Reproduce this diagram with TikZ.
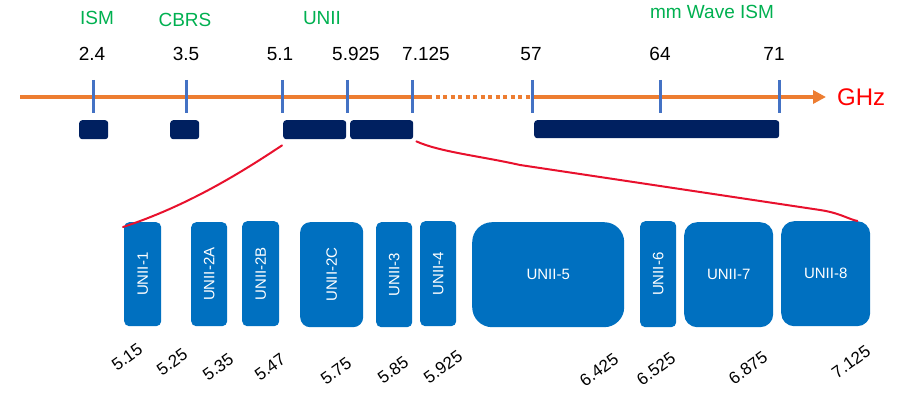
\documentclass[tikz,border=0pt]{standalone}
\usepackage{fontspec}
\setmainfont{Liberation Sans}
\usetikzlibrary{arrows.meta}
\definecolor{axisorange}{HTML}{ED7D31}
\definecolor{tickblue}{HTML}{4472C4}
\definecolor{bandgreen}{HTML}{00B050}
\definecolor{allocnavy}{HTML}{002060}
\definecolor{uniiblue}{HTML}{0070C0}
\definecolor{zoomred}{HTML}{E8112D}
\tikzset{
  axis/.style={axisorange, line width=4pt},
  tick/.style={tickblue, line width=3pt},
  freq/.style={font=\fontsize{19}{22}\selectfont, inner sep=0pt},
  bandname/.style={text=bandgreen, font=\fontsize{19}{22}\selectfont, inner sep=0pt},
  alloc/.style={fill=allocnavy, rounded corners=3pt, inner sep=0pt, anchor=north west},
  subband/.style={fill=uniiblue, text=white, font=\fontsize{15}{18}\selectfont,
    inner sep=0pt, anchor=north west},
  edgefreq/.style={rotate=36, font=\fontsize{17}{20}\selectfont, inner sep=0pt},
  zoomline/.style={zoomred, line width=2pt, line cap=round}
}
\begin{document}
\begin{tikzpicture}[x=1pt, y=-1pt]
  \useasboundingbox (0,0) rectangle (924,395);
  % frequency axis
  \coordinate (axstart) at (20,97);
  \coordinate (axgap) at (428,97);
  \coordinate (axend) at (826,97);
  \coordinate (t24) at (93,97);
  \coordinate (t35) at (186,97);
  \coordinate (t51) at (282,97);
  \coordinate (t5925) at (347,97);
  \coordinate (t7125) at (412,97);
  \coordinate (t57) at (532,97);
  \coordinate (t64) at (660,97);
  \coordinate (t71) at (779,97);
  \draw[axis] (axstart) -- (axgap);
  \draw[axis, dash pattern=on 4pt off 3.5pt] (axgap) -- (t57);
  \draw[axis, -{Triangle[length=13pt,width=13pt]}] (t57) -- (axend);
  \node[text=red, font=\fontsize{24}{28}\selectfont, inner sep=0pt, anchor=west] (ghz) at (837,97) {GHz};
  \draw[tick] ([yshift=17pt]t24) -- ([yshift=-16pt]t24);
  \draw[tick] ([yshift=17pt]t35) -- ([yshift=-16pt]t35);
  \draw[tick] ([yshift=17pt]t51) -- ([yshift=-16pt]t51);
  \draw[tick] ([yshift=17pt]t5925) -- ([yshift=-16pt]t5925);
  \draw[tick] ([yshift=17pt]t7125) -- ([yshift=-16pt]t7125);
  \draw[tick] ([yshift=17pt]t57) -- ([yshift=-16pt]t57);
  \draw[tick] ([yshift=17pt]t64) -- ([yshift=-16pt]t64);
  \draw[tick] ([yshift=17pt]t71) -- ([yshift=-16pt]t71);
  % tick values
  \node[freq] (f24) at (92,54) {2.4};
  \node[freq] (f35) at (186,54) {3.5};
  \node[freq] (f51) at (280,54) {5.1};
  \node[freq] (f5925) at (356,54) {5.925};
  \node[freq] (f7125) at (426,54) {7.125};
  \node[freq] (f57) at (531,54) {57};
  \node[freq] (f64) at (660,54) {64};
  \node[freq] (f71) at (774,54) {71};
  % band names
  \node[bandname] (ismname) at (97,18) {ISM};
  \node[bandname] (cbrsname) at (185,20) {CBRS};
  \node[bandname] (uniiname) at (322,18) {UNII};
  \node[bandname] (mmname) at (712,12) {mm Wave ISM};
  % allocations
  \node[alloc, minimum width=29pt, minimum height=19pt] (ism) at (79,120) {};
  \node[alloc, minimum width=29pt, minimum height=19pt] (cbrs) at (170,120) {};
  \node[alloc, minimum width=63pt, minimum height=19pt] (uniia) at (283,120) {};
  \node[alloc, minimum width=63pt, minimum height=19pt] (uniib) at (350,120) {};
  \node[alloc, minimum width=245pt, minimum height=18pt] (mmwave) at (534,120) {};
  % UNII sub-bands
  \node[subband, rounded corners=5pt, minimum width=37pt, minimum height=104pt] (u1) at (124,222) {\rotatebox{90}{UNII-1}};
  \node[subband, rounded corners=5pt, minimum width=36pt, minimum height=104pt] (u2a) at (191,222) {\rotatebox{90}{UNII-2A}};
  \node[subband, rounded corners=5pt, minimum width=37pt, minimum height=105pt] (u2b) at (242,221) {\rotatebox{90}{UNII-2B}};
  \node[subband, rounded corners=10pt, minimum width=63pt, minimum height=105pt] (u2c) at (300,222) {\rotatebox{90}{UNII-2C}};
  \node[subband, rounded corners=5pt, minimum width=36pt, minimum height=105pt] (u3) at (376,222) {\rotatebox{90}{UNII-3}};
  \node[subband, rounded corners=5pt, minimum width=36pt, minimum height=105pt] (u4) at (420,221) {\rotatebox{90}{UNII-4}};
  \node[subband, rounded corners=20pt, minimum width=152pt, minimum height=105pt] (u5) at (472,222) {UNII-5};
  \node[subband, rounded corners=5pt, minimum width=36pt, minimum height=106pt] (u6) at (640,221) {\rotatebox{90}{UNII-6}};
  \node[subband, rounded corners=13pt, minimum width=89pt, minimum height=105pt] (u7) at (684,222) {UNII-7};
  \node[subband, rounded corners=13pt, minimum width=89pt, minimum height=105pt] (u8) at (781,221) {UNII-8};
  % sub-band edges
  \node[edgefreq] (e515) at (127,357) {5.15};
  \node[edgefreq] (e525) at (172,362) {5.25};
  \node[edgefreq] (e535) at (218,367) {5.35};
  \node[edgefreq] (e547) at (270,367) {5.47};
  \node[edgefreq] (e575) at (336,371) {5.75};
  \node[edgefreq] (e585) at (393,370) {5.85};
  \node[edgefreq] (e5925) at (443,367) {5.925};
  \node[edgefreq] (e6425) at (599,370) {6.425};
  \node[edgefreq] (e6525) at (656,369) {6.525};
  \node[edgefreq] (e6875) at (748,368) {6.875};
  \node[edgefreq] (e7125) at (851,362) {7.125};
  % zoom lines
  \draw[zoomline] ([xshift=-1pt,yshift=-6pt]uniia.south west)
    .. controls (245,170) and (190,205) .. ([xshift=-1pt,yshift=-5pt]u1.north west);
  \draw[zoomline] ([xshift=3pt,yshift=-2pt]uniib.south east)
    .. controls (440,152) and (480,156) .. (520,165) -- (820,210)
    .. controls (840,213) and (848,219) .. ([xshift=-13pt]u8.north east);
\end{tikzpicture}
\end{document}
